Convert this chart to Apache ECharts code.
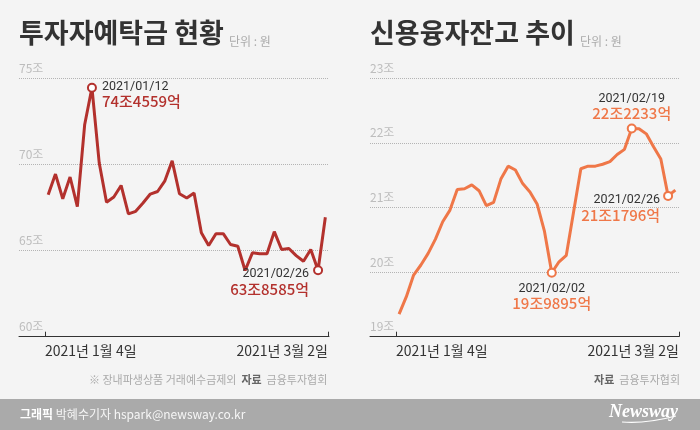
<!DOCTYPE html>
<html>
<head>
<meta charset="utf-8">
<script src="https://cdn.jsdelivr.net/npm/echarts@6/dist/echarts.min.js"></script>
<style>
  html, body { margin: 0; padding: 0; background: #f4f4f4; }
  #main { width: 700px; height: 430px; }
</style>
</head>
<body>
<div id="main"></div>
<script>
// 거래일 (2021년)
var days = ['01/04','01/05','01/06','01/07','01/08','01/11','01/12','01/13','01/14','01/15',
            '01/18','01/19','01/20','01/21','01/22','01/25','01/26','01/27','01/28','01/29',
            '02/01','02/02','02/03','02/04','02/05','02/08','02/09','02/10','02/15','02/16',
            '02/17','02/18','02/19','02/22','02/23','02/24','02/25','02/26','03/02'];
var xLabels = ['2021년 1월 4일', '2021년 3월 2일'];

// 투자자예탁금 (조원)
var deposit = [68.24, 69.44, 68.01, 69.27, 67.55, 72.30, 74.4559, 70.08, 67.80, 68.11,
               68.78, 67.13, 67.28, 67.76, 68.28, 68.43, 69.05, 70.21, 68.30, 68.05,
               68.34, 66.03, 65.29, 65.98, 65.98, 65.35, 65.25, 63.84, 64.87, 64.81,
               64.81, 66.10, 65.06, 65.12, 64.71, 64.38, 65.06, 63.8585, 66.93];
var depositTicks = [60, 65, 70, 75];
var depositMarks = [6, 37];
var depositMarkText = ['74조4559억', '63조8585억'];

// 신용융자잔고 (조원)
var credit = [19.35, 19.62, 19.955, 20.11, 20.29, 20.51, 20.78, 20.96, 21.28, 21.29,
              21.35, 21.26, 21.03, 21.08, 21.44, 21.64, 21.58, 21.37, 21.24, 21.05,
              20.63, 19.9895, 20.16, 20.26, 20.93, 21.60, 21.64, 21.64, 21.67, 21.71,
              21.82, 21.90, 22.2233, 22.22, 22.14, 21.94, 21.75, 21.1796, 21.27];
var creditTicks = [19, 20, 21, 22, 23];
var creditMarks = [32, 37, 21];
var creditMarkText = ['22조2233억', '21조1796억', '19조9895억'];

var RED = '#b3312d';
var ORANGE = '#ef7748';
var KR = "'Noto Sans CJK KR', sans-serif";

function richFor(color) {
    return {
        d: { fontFamily: 'Roboto', fontSize: 12.5, color: '#333', lineHeight: 14 },
        v: { fontFamily: KR, fontSize: 15, fontWeight: 500, color: color, lineHeight: 16 }
    };
}

function markData(values, idxs, texts, labelCfgs) {
    return idxs.map(function (i, k) {
        var lb = { formatter: '{d|2021/' + days[i] + '}\n{v|' + texts[k] + '}' };
        for (var key in labelCfgs[k]) lb[key] = labelCfgs[k][key];
        return { value: [i, values[i]], label: lb };
    });
}

function yAxisCfg(gi, ticks) {
    return {
        gridIndex: gi, type: 'value',
        min: ticks[0], max: ticks[ticks.length - 1], interval: ticks[1] - ticks[0],
        axisLine: { show: false }, axisTick: { show: false },
        splitLine: { show: true, lineStyle: { color: '#b4b4b4', type: 'dotted', width: 1 } },
        axisLabel: {
            inside: true, margin: 0, verticalAlign: 'bottom', padding: [0, 0, 4, 0],
            color: '#bdbdbd', fontSize: 12, fontFamily: KR,
            formatter: function (v) { return v + '조'; }
        }
    };
}

function lineAxisCfg(gi) {
    return {
        gridIndex: gi, type: 'value', min: -4, max: 38.5,
        axisLine: { show: true, onZero: false, lineStyle: { color: '#333', width: 1 } },
        axisTick: { show: false }, axisLabel: { show: false }, splitLine: { show: false }
    };
}

function tickAxisCfg(gi) {
    return {
        gridIndex: gi, type: 'value', min: 0, max: days.length - 1, interval: days.length - 1,
        axisLine: { show: false, onZero: false },
        axisTick: { show: true, inside: true, length: 5, lineStyle: { color: '#333' } },
        splitLine: { show: false },
        axisLabel: {
            margin: 7, fontSize: 14, color: '#333', fontFamily: KR,
            alignMinLabel: 'left', alignMaxLabel: 'right',
            formatter: function (v) { return v === 0 ? xLabels[0] : xLabels[1]; }
        }
    };
}

var option = {
    backgroundColor: '#f4f4f4',
    animation: false,
    textStyle: { fontFamily: KR },
    graphic: [
        { type: 'rect', shape: { x: 0, y: 399, width: 700, height: 31 }, style: { fill: '#aaaaaa' }, z: 0 },
        // 로고 밑 곡선
        { type: 'bezierCurve', shape: { x1: 622, y1: 422, x2: 676, y2: 416, cpx1: 645, cpy1: 424 },
          style: { stroke: '#fff', lineWidth: 1.2, fill: null }, z: 1 }
    ],
    title: [
        { text: '투자자예탁금 현황', left: 19, top: 18, padding: 0,
          textStyle: { fontSize: 27, fontWeight: 'bold', color: '#333', lineHeight: 30, fontFamily: KR } },
        { text: '단위 : 원', left: 229, top: 34, padding: 0,
          textStyle: { fontSize: 12, fontWeight: 'normal', color: '#aaa', lineHeight: 14, fontFamily: KR } },
        { text: '신용융자잔고 추이', left: 370, top: 18, padding: 0,
          textStyle: { fontSize: 27, fontWeight: 'bold', color: '#333', lineHeight: 30, fontFamily: KR } },
        { text: '단위 : 원', left: 580, top: 34, padding: 0,
          textStyle: { fontSize: 12, fontWeight: 'normal', color: '#aaa', lineHeight: 14, fontFamily: KR } },
        { text: '※ 장내파생상품 거래예수금제외  {b|자료}  금융투자협회', left: 89, top: 373, padding: 0,
          textStyle: { fontSize: 11, fontWeight: 'normal', color: '#aaa', lineHeight: 14, fontFamily: KR,
                       rich: { b: { fontSize: 11, fontWeight: 'bold', color: '#666', fontFamily: KR } } } },
        { text: '{b|자료}  금융투자협회', right: 20, top: 373, padding: 0,
          textStyle: { fontSize: 11, fontWeight: 'normal', color: '#aaa', lineHeight: 14, fontFamily: KR,
                       rich: { b: { fontSize: 11, fontWeight: 'bold', color: '#666', fontFamily: KR } } } },
        { text: '{b|그래픽} 박혜수기자 hspark@newsway.co.kr', left: 20, top: 406, padding: 0,
          textStyle: { fontSize: 12, fontWeight: 'normal', color: '#f6f6f6', lineHeight: 16, fontFamily: KR,
                       rich: { b: { fontSize: 12, fontWeight: 'bold', color: '#fff', fontFamily: KR } } } },
        { text: 'Newsway', right: 22, top: 402, padding: 0,
          textStyle: { fontSize: 18, fontWeight: 'bold', fontStyle: 'italic', color: '#fff',
                       lineHeight: 20, fontFamily: "'Liberation Serif', serif" } }
    ],
    grid: [
        { left: 19, right: 371, top: 78.3, bottom: 93.3, outerBoundsMode: 'none' },
        { left: 45, right: 372, top: 78.3, bottom: 93.3, outerBoundsMode: 'none' },
        { left: 370, right: 21, top: 78.3, bottom: 93.3, outerBoundsMode: 'none' },
        { left: 396, right: 21, top: 78.3, bottom: 93.3, outerBoundsMode: 'none' }
    ],
    xAxis: [lineAxisCfg(0), tickAxisCfg(1), lineAxisCfg(2), tickAxisCfg(3)],
    yAxis: [
        yAxisCfg(0, depositTicks),
        { gridIndex: 1, type: 'value', min: 0, max: 1, show: false },
        yAxisCfg(2, creditTicks),
        { gridIndex: 3, type: 'value', min: 0, max: 1, show: false }
    ],
    series: [
        {
            type: 'line', xAxisIndex: 0, yAxisIndex: 0, z: 2,
            data: deposit.map(function (v, i) { return [i, v]; }),
            symbol: 'none', lineStyle: { color: RED, width: 3 }
        },
        {
            type: 'scatter', xAxisIndex: 0, yAxisIndex: 0, z: 3,
            symbol: 'circle', symbolSize: 8,
            itemStyle: { color: '#fff', borderColor: RED, borderWidth: 2, opacity: 1 },
            label: { show: true, rich: richFor(RED) },
            data: markData(deposit, depositMarks, depositMarkText, [
                { position: 'right', distance: 5, offset: [0, 7] },
                { position: 'left', distance: 4, offset: [0, 12] }
            ])
        },
        {
            type: 'line', xAxisIndex: 2, yAxisIndex: 2, z: 2,
            data: credit.map(function (v, i) { return [i, v]; }),
            symbol: 'none', lineStyle: { color: ORANGE, width: 3 }
        },
        {
            type: 'scatter', xAxisIndex: 2, yAxisIndex: 2, z: 3,
            symbol: 'circle', symbolSize: 8,
            itemStyle: { color: '#fff', borderColor: ORANGE, borderWidth: 2, opacity: 1 },
            label: { show: true, rich: richFor(ORANGE) },
            data: markData(credit, creditMarks, creditMarkText, [
                { position: 'top', distance: 2, offset: [0, 0] },
                { position: 'left', distance: 3, offset: [0, 12] },
                { position: 'bottom', distance: 4, offset: [0, 0] }
            ])
        }
    ]
};

var myChart = echarts.init(document.getElementById('main'), null, { renderer: 'canvas' });
myChart.setOption(option);
</script>
</body>
</html>
